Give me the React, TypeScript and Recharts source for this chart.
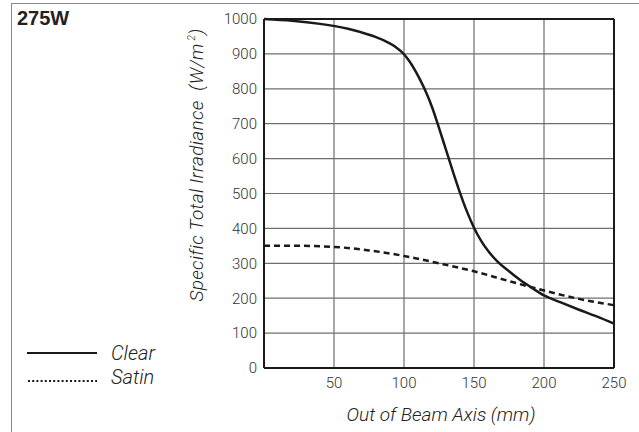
import { CartesianGrid, Line, LineChart, ReferenceLine, XAxis, YAxis } from 'recharts'

// Specific total irradiance vs. distance out of beam axis (275W lamp)
const clearX = [0, 20, 40, 60, 75, 80, 88, 94, 100, 104, 108, 112, 116, 120, 125, 130, 135, 140, 145, 150, 155, 160, 167, 175, 183, 192, 200, 212, 225, 238, 250]
const clearY = [1000, 995, 986, 972, 955, 948, 934, 920, 899, 878, 852, 822, 788, 748, 688, 625, 562, 502, 448, 402, 365, 336, 304, 277, 252, 228, 208, 188, 167, 147, 127]

const satinX = [0, 25, 50, 75, 100, 125, 150, 175, 200, 225, 250]
const satinY = [350, 350, 347, 337, 321, 300, 277, 249, 222, 198, 180]

const xTicks = [0, 50, 100, 150, 200, 250]
const yTicks = [0, 100, 200, 300, 400, 500, 600, 700, 800, 900, 1000]

const clearData = clearX.map((x, i) => ({ x, clear: clearY[i] }))
const satinData = satinX.map((x, i) => ({ x, satin: satinY[i] }))

const INK = '#1a1a1a'
const GRID = '#6f6f6f'
const TICK = { fill: '#333', fontSize: 15, fontFamily: 'Roboto, sans-serif', fontWeight: 300 }
const ITALIC = {
  position: 'absolute' as const,
  fontFamily: 'Roboto, sans-serif',
  fontWeight: 300,
  fontStyle: 'italic',
  color: '#222',
  whiteSpace: 'nowrap' as const,
  lineHeight: 1,
}

export default function App() {
  return (
    <div style={{ position: 'absolute', left: 0, top: 0, width: 639, height: 432, background: '#fff', overflow: 'hidden' }}>
      {/* frame */}
      <div
        style={{
          position: 'absolute',
          left: 11,
          top: 3,
          right: -4,
          bottom: -4,
          borderTop: '1.5px solid #888',
          borderLeft: '1.5px solid #888',
        }}
      />
      <div
        style={{
          position: 'absolute',
          left: 17,
          top: 7,
          fontFamily: '"Liberation Sans", Arial, sans-serif',
          fontWeight: 700,
          fontSize: 20,
          color: '#222',
        }}
      >
        275W
      </div>

      <LineChart width={639} height={432} margin={{ top: 19, right: 25, bottom: 34, left: 204 }} style={{ position: 'absolute', left: 0, top: 0 }}>
        <CartesianGrid stroke={GRID} strokeWidth={1.2} />
        <XAxis
          type="number"
          dataKey="x"
          domain={[0, 250]}
          ticks={xTicks}
          allowDuplicatedCategory={false}
          tick={TICK}
          tickFormatter={(v) => (v === 0 ? '' : String(v))}
          tickLine={false}
          tickSize={6}
          tickMargin={3}
          height={30}
          axisLine={{ stroke: INK, strokeWidth: 2 }}
        />
        <YAxis
          type="number"
          domain={[0, 1000]}
          ticks={yTicks}
          tick={TICK}
          tickLine={false}
          tickSize={5}
          tickMargin={2}
          width={60}
          axisLine={{ stroke: INK, strokeWidth: 2 }}
        />
        <ReferenceLine y={1000} stroke={INK} strokeWidth={2} />
        <ReferenceLine x={250} stroke={INK} strokeWidth={2} />
        <Line
          data={satinData}
          type="monotone"
          dataKey="satin"
          stroke={INK}
          strokeWidth={2.5}
          strokeDasharray="6 4"
          dot={false}
          isAnimationActive={false}
        />
        <Line
          data={clearData}
          type="monotone"
          dataKey="clear"
          stroke={INK}
          strokeWidth={2.5}
          dot={false}
          isAnimationActive={false}
        />
      </LineChart>

      {/* axis titles */}
      <div style={{ ...ITALIC, fontSize: 19, left: 441, top: 405, transform: 'translateX(-50%)' }}>Out of Beam Axis (mm)</div>
      <div
        style={{
          ...ITALIC,
          fontSize: 19,
          left: 196,
          top: 165,
          transform: 'translate(-50%, -50%) rotate(-90deg)',
          letterSpacing: 0.3,
        }}
      >
        Specific Total Irradiance&nbsp;&nbsp;(W/m<sup style={{ fontSize: 10 }}>&nbsp;2</sup>)
      </div>

      {/* legend */}
      <svg style={{ position: 'absolute', left: 0, top: 0 }} width={110} height={432}>
        <line x1={27} x2={97} y1={353} y2={353} stroke={INK} strokeWidth={2} />
        <line x1={28} x2={97} y1={381} y2={381} stroke={INK} strokeWidth={2} strokeDasharray="2 2.2" />
      </svg>
      <div style={{ ...ITALIC, fontSize: 20, left: 111, top: 343 }}>Clear</div>
      <div style={{ ...ITALIC, fontSize: 20, left: 111, top: 367 }}>Satin</div>
    </div>
  )
}
